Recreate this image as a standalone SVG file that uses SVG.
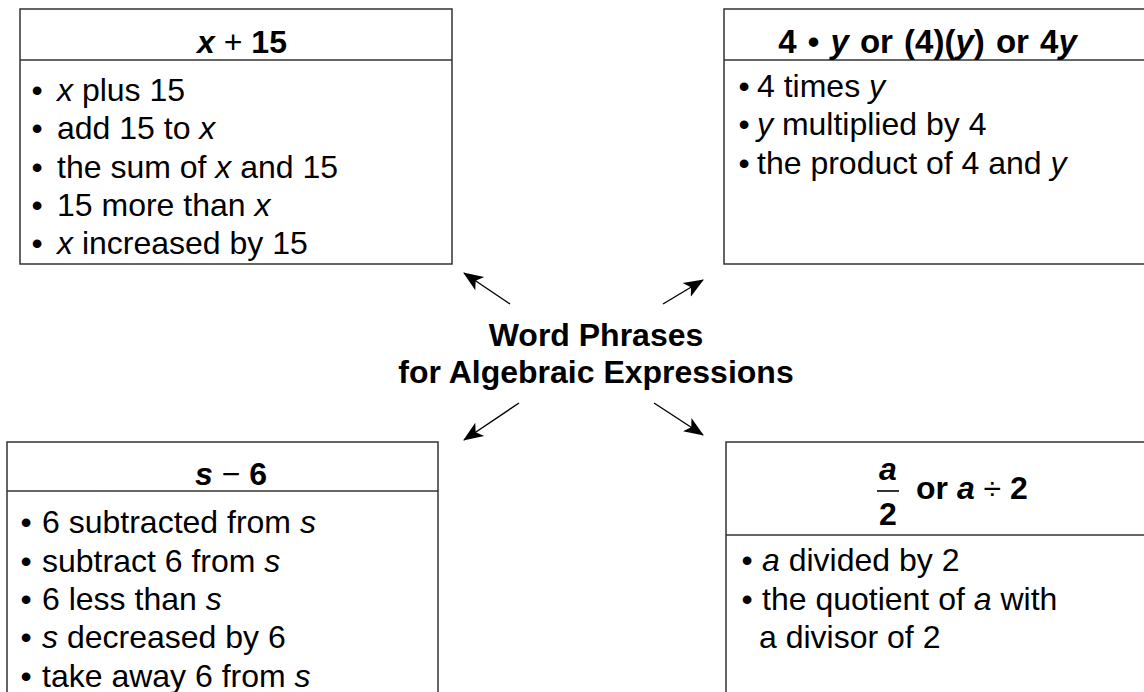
<svg xmlns="http://www.w3.org/2000/svg" width="1144" height="692" viewBox="0 0 1144 692">
<defs>
<style>
.box{fill:#fff;stroke:#333;stroke-width:1.5}
.div{stroke:#333;stroke-width:1.5}
.t{font-family:"Liberation Sans",Arial,sans-serif;font-size:32px;fill:#000}
.h{font-family:"Liberation Sans",Arial,sans-serif;font-size:32px;font-weight:bold;fill:#000;text-anchor:middle}
.c{font-family:"Liberation Sans",Arial,sans-serif;font-size:32px;font-weight:bold;fill:#000;text-anchor:middle}
.i{font-style:italic}
.n{font-weight:normal}
.con{stroke:#000;stroke-width:1.4;fill:none}
</style>
<marker id="ah" markerUnits="userSpaceOnUse" markerWidth="20" markerHeight="18" viewBox="0 0 20 18" refX="19" refY="9" orient="auto">
<path d="M0,1 L20,9 L0,17 L5,9 Z" fill="#000"/>
</marker>
</defs>
<rect width="1144" height="692" fill="#fff"/>

<g id="center">
<text class="c" x="596" y="346">Word Phrases</text>
<text class="c" x="596" y="383">for Algebraic Expressions</text>
</g>

<g id="connectors">
<line class="con" x1="510" y1="304" x2="464" y2="273" marker-end="url(#ah)"/>
<line class="con" x1="663" y1="304" x2="703" y2="280" marker-end="url(#ah)"/>
<line class="con" x1="519" y1="403" x2="464" y2="440" marker-end="url(#ah)"/>
<line class="con" x1="654" y1="403" x2="703" y2="435" marker-end="url(#ah)"/>
</g>

<g id="addition">
<rect class="box" x="20" y="9" width="432" height="255"/>
<line class="div" x1="20" y1="60" x2="452" y2="60"/>
<text class="h" x="242" y="53"><tspan class="i">x</tspan><tspan class="n"> + </tspan>15</text>
<text class="t" x="31.5" y="101">•</text>
<text class="t" x="57" y="101"><tspan class="i">x</tspan> plus 15</text>
<text class="t" x="31.5" y="139.3">•</text>
<text class="t" x="57" y="139.3">add 15 to <tspan class="i">x</tspan></text>
<text class="t" x="31.5" y="177.6">•</text>
<text class="t" x="57" y="177.6">the sum of <tspan class="i">x</tspan> and 15</text>
<text class="t" x="31.5" y="215.9">•</text>
<text class="t" x="57" y="215.9">15 more than <tspan class="i">x</tspan></text>
<text class="t" x="31.5" y="254.2">•</text>
<text class="t" x="57" y="254.2"><tspan class="i">x</tspan> increased by 15</text>
</g>

<g id="multiplication">
<rect class="box" x="724" y="9" width="422" height="255"/>
<line class="div" x1="724" y1="60" x2="1146" y2="60"/>
<text class="h" x="927.5" y="53" style="font-size:33px;word-spacing:2px">4 • <tspan class="i">y</tspan> or (4)(<tspan class="i">y</tspan>) or 4<tspan class="i">y</tspan></text>
<text class="t" x="738.5" y="97">•</text>
<text class="t" x="757" y="97">4 times <tspan class="i">y</tspan></text>
<text class="t" x="738.5" y="135.3">•</text>
<text class="t" x="757" y="135.3"><tspan class="i">y</tspan> multiplied by 4</text>
<text class="t" x="738.5" y="173.6">•</text>
<text class="t" x="757" y="173.6">the product of 4 and <tspan class="i">y</tspan></text>
</g>

<g id="subtraction">
<rect class="box" x="7" y="442" width="431" height="260"/>
<line class="div" x1="7" y1="491" x2="438" y2="491"/>
<text class="h" x="231" y="485"><tspan class="i">s</tspan><tspan class="n"> − </tspan>6</text>
<text class="t" x="20.5" y="533.3">•</text>
<text class="t" x="42" y="533.3">6 subtracted from <tspan class="i">s</tspan></text>
<text class="t" x="20.5" y="571.6">•</text>
<text class="t" x="42" y="571.6">subtract 6 from <tspan class="i">s</tspan></text>
<text class="t" x="20.5" y="609.9">•</text>
<text class="t" x="42" y="609.9">6 less than <tspan class="i">s</tspan></text>
<text class="t" x="20.5" y="648.2">•</text>
<text class="t" x="42" y="648.2"><tspan class="i">s</tspan> decreased by 6</text>
<text class="t" x="20.5" y="686.5">•</text>
<text class="t" x="42" y="686.5">take away 6 from <tspan class="i">s</tspan></text>
</g>

<g id="division">
<rect class="box" x="726" y="442" width="430" height="260"/>
<line class="div" x1="726" y1="535" x2="1156" y2="535"/>
<text class="h" x="888" y="480"><tspan class="i">a</tspan></text>
<line x1="877" y1="491" x2="899" y2="491" stroke="#000" stroke-width="1.6"/>
<text class="h" x="888" y="525">2</text>
<text class="t" x="916" y="499" style="font-weight:bold">or <tspan class="i">a</tspan><tspan class="n"> ÷ </tspan>2</text>
<text class="t" x="741.5" y="571">•</text>
<text class="t" x="762" y="571"><tspan class="i">a</tspan> divided by 2</text>
<text class="t" x="741.5" y="609.5">•</text>
<text class="t" x="762" y="609.5">the quotient of <tspan class="i">a</tspan> with</text>
<text class="t" x="759" y="648">a divisor of 2</text>
</g>
</svg>
